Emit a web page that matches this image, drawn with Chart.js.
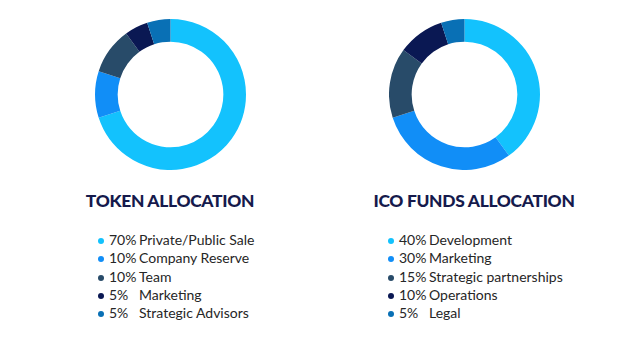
<!DOCTYPE html>
<html>
<head>
<meta charset="utf-8">
<script src="https://cdn.jsdelivr.net/npm/chart.js@4"></script>
<style>
 html,body{margin:0;padding:0;background:#fff;width:640px;height:338px;overflow:hidden}
 body{position:relative;font-family:Lato,"Open Sans",sans-serif}
 .box{position:absolute;top:19px;width:151px;height:151px}
 .title{position:absolute;top:190px;font-weight:900;font-size:17.4px;color:#151a4c;letter-spacing:-0.3px;white-space:nowrap;transform:translateX(-50%)}
 .legend{position:absolute;top:231px;margin:0;padding:0;list-style:none;font-size:14px;color:#262626}
 .legend li{height:18.3px;line-height:18.3px;white-space:nowrap}
 .dot{display:inline-block;width:6px;height:6px;border-radius:50%;margin-right:5px;vertical-align:1px}
 .pct{display:inline-block;width:30px}
</style>
</head>
<body>

<div class="box" style="left:95px"><canvas id="tokenChart"></canvas></div>
<div class="title" style="left:170px">TOKEN ALLOCATION</div>
<ul class="legend" id="tokenLegend" style="left:98px"></ul>

<div class="box" style="left:389px"><canvas id="icoChart"></canvas></div>
<div class="title" style="left:474px">ICO FUNDS ALLOCATION</div>
<ul class="legend" id="icoLegend" style="left:388px"></ul>

<script>
/* ========= DATA ========= */

const colors=["#13c2fd","#118ef7","#284b69","#0a1853","#0970b5"]

const tokenLabels=["Private/Public Sale","Company Reserve","Team","Marketing","Strategic Advisors"]
const tokenValues=[70,10,10,5,5]

const icoLabels=["Development","Marketing","Strategic partnerships","Operations","Legal"]
const icoValues=[40,30,15,10,5]

/* ========= LEGEND ========= */

function legend(el,labels,values){
 labels.forEach((l,i)=>{
   const li=document.createElement("li")
   const d=document.createElement("span")
   d.className="dot"
   d.style.background=colors[i]
   const p=document.createElement("span")
   p.className="pct"
   p.textContent=values[i]+"%"
   li.appendChild(d)
   li.appendChild(p)
   li.appendChild(document.createTextNode(l))
   el.appendChild(li)
 })
}

/* ========= DONUT ========= */

function donut(id,labels,values){
 return new Chart(document.getElementById(id),{
   type:"doughnut",
   data:{labels,datasets:[{data:values,backgroundColor:colors,borderWidth:0}]},
   options:{
     responsive:true,
     maintainAspectRatio:false,
     animation:false,
     cutout:"70%",
     layout:{padding:0},
     plugins:{legend:{display:false},tooltip:{enabled:false}}
   }
 })
}

donut("tokenChart",tokenLabels,tokenValues)
donut("icoChart",icoLabels,icoValues)
legend(document.getElementById("tokenLegend"),tokenLabels,tokenValues)
legend(document.getElementById("icoLegend"),icoLabels,icoValues)
</script>
</body>
</html>
